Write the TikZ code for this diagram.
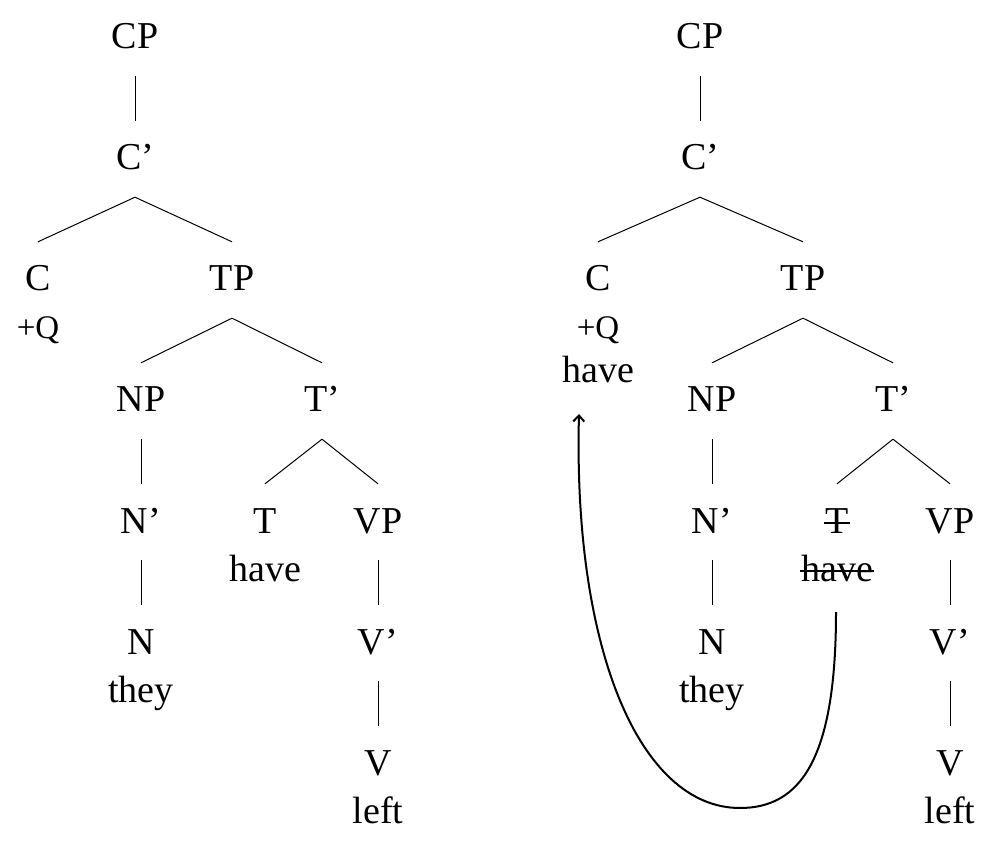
\documentclass[tikz,border=0pt]{standalone}
\usepackage{fontspec}
\setmainfont{Liberation Serif}
\usetikzlibrary{arrows.meta}
\begin{document}
\begin{tikzpicture}[x=1pt,y=-1pt,
  cat/.style={anchor=base, inner xsep=0pt, inner ysep=25pt, text height=24pt, text depth=2pt, font=\fontsize{38}{44}\selectfont},
  word/.style={anchor=base, inner sep=0pt, font=\fontsize{38}{44}\selectfont},
  feat/.style={anchor=base, inner sep=0pt, font=\fontsize{33}{38}\selectfont},
  edge/.style={line width=1pt},
  strike/.style={line width=1.4pt},
  move/.style={line width=2pt, -{Straight Barb[length=6pt,width=11pt]}}]
\useasboundingbox (0,0) rectangle (1002,850);
% left tree
\node[cat] (lCP) at (135,49) {CP};
\node[cat] (lCb) at (135,170) {C’};
\node[cat] (lC) at (38,291) {C};
\node[feat] (lQ) at (38,339) {+Q};
\node[cat] (lTP) at (232,291) {TP};
\node[cat] (lNP) at (141,412) {NP};
\node[cat] (lTb) at (322,412) {T’};
\node[cat] (lNb) at (141,533) {N’};
\node[cat] (lT) at (265,533) {T};
\node[word] (lhave) at (265,581) {have};
\node[cat] (lVP) at (378,533) {VP};
\node[cat] (lN) at (141,654) {N};
\node[word] (lthey) at (141,702) {they};
\node[cat] (lVb) at (378,654) {V’};
\node[cat] (lV) at (378,775) {V};
\node[word] (lleft) at (378,823) {left};
\draw[edge] (lCP.south) -- (lCb.north);
\draw[edge] (lCb.south) -- (lC.north);
\draw[edge] (lCb.south) -- (lTP.north);
\draw[edge] (lTP.south) -- (lNP.north);
\draw[edge] (lTP.south) -- (lTb.north);
\draw[edge] (lNP.south) -- (lNb.north);
\draw[edge] (lNb.south) -- (lN.north);
\draw[edge] (lTb.south) -- (lT.north);
\draw[edge] (lTb.south) -- (lVP.north);
\draw[edge] (lVP.south) -- (lVb.north);
\draw[edge] (lVb.south) -- (lV.north);
% right tree
\node[cat] (rCP) at (700,49) {CP};
\node[cat] (rCb) at (700,170) {C’};
\node[cat] (rC) at (598,291) {C};
\node[feat] (rQ) at (598,339) {+Q};
\node[word] (rhave) at (598,383) {have};
\node[cat] (rTP) at (803,291) {TP};
\node[cat] (rNP) at (712,412) {NP};
\node[cat] (rTb) at (893,412) {T’};
\node[cat] (rNb) at (712,533) {N’};
\node[cat] (rT) at (837,533) {T};
\node[word] (rhv) at (837,581) {have};
\node[cat] (rVP) at (950,533) {VP};
\node[cat] (rN) at (712,654) {N};
\node[word] (rthey) at (712,702) {they};
\node[cat] (rVb) at (950,654) {V’};
\node[cat] (rV) at (950,775) {V};
\node[word] (rleft) at (950,823) {left};
\draw[edge] (rCP.south) -- (rCb.north);
\draw[edge] (rCb.south) -- (rC.north);
\draw[edge] (rCb.south) -- (rTP.north);
\draw[edge] (rTP.south) -- (rNP.north);
\draw[edge] (rTP.south) -- (rTb.north);
\draw[edge] (rNP.south) -- (rNb.north);
\draw[edge] (rNb.south) -- (rN.north);
\draw[edge] (rTb.south) -- (rT.north);
\draw[edge] (rTb.south) -- (rVP.north);
\draw[edge] (rVP.south) -- (rVb.north);
\draw[edge] (rVb.south) -- (rV.north);
% strike-throughs
\draw[strike] ([xshift=-1pt,yshift=10pt]rT.base west) -- ([xshift=1pt,yshift=10pt]rT.base east);
\draw[strike] ([xshift=-1pt,yshift=10pt]rhv.base west) -- ([xshift=1pt,yshift=10pt]rhv.base east);
% movement arrow
\coordinate (mvS) at (836,612);
\coordinate (mvB) at (740,808);
\coordinate (mvE) at (579,414);
\draw[move] (mvS) .. controls (836,760) and (800,808) .. (mvB) .. controls (640,808) and (573,650) .. (mvE);
\end{tikzpicture}
\end{document}
